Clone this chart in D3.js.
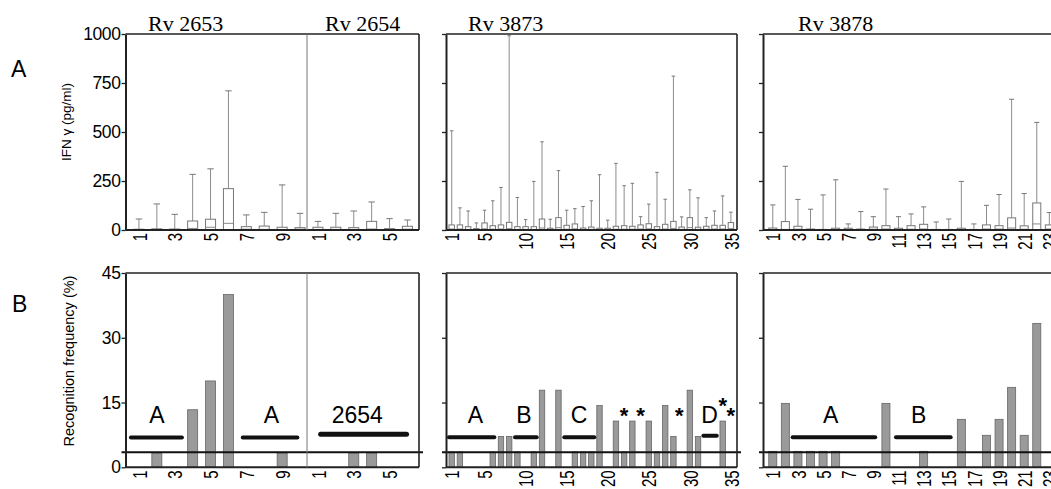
<!DOCTYPE html>
<html>
<head>
<meta charset="utf-8">
<script src="https://cdn.jsdelivr.net/npm/d3@7"></script>
<style>
  body { margin: 0; background: #fff; }
  svg text { font-family: "Liberation Sans", Arial, sans-serif; fill: #000; }
</style>
</head>
<body>
<div id="chart"></div>
<script>
// ---- panel A: IFN gamma box plots (max = whisker top, q3 = box top, med = median)
var rv2653Max = [56, 133, 80, 284, 312, 710, 77, 90, 230, 85];
var rv2653Q3  = [4, 6, 5, 46, 55, 211, 17, 20, 14, 12];
var rv2653Med = [1, 2, 1, 8, 14, 34, 4, 3, 2, 4];
var rv2654Max = [44, 85, 97, 143, 58, 51];
var rv2654Q3  = [14, 14, 12, 44, 7, 19];
var rv2654Med = [3, 3, 3, 5, 2, 4];
var rv3873Max = [506, 113, 97, 36, 101, 149, 217, 991, 166, 53, 248, 450, 55, 303, 101, 109, 120, 149,
                 282, 50, 340, 226, 238, 68, 132, 294, 157, 785, 67, 205, 164, 63, 97, 174, 91];
var rv3873Q3  = [26, 26, 17, 7, 36, 22, 26, 39, 17, 17, 17, 56, 9, 63, 24, 31, 10, 15,
                 9, 9, 19, 22, 19, 26, 32, 17, 29, 44, 15, 63, 14, 19, 24, 24, 38];
var rv3873Med = [5, 5, 3, 1, 6, 4, 5, 7, 3, 3, 3, 10, 2, 12, 4, 6, 2, 3,
                 2, 2, 4, 4, 4, 5, 6, 3, 5, 8, 3, 12, 3, 4, 5, 5, 7];
var rv3878Max = [128, 325, 156, 106, 179, 256, 31, 94, 68, 209, 68, 82, 118, 41, 56, 248, 31, 126,
                 181, 667, 186, 549, 89];
var rv3878Q3  = [10, 43, 19, 5, 3, 9, 9, 5, 15, 22, 9, 22, 29, 3, 3, 9, 3, 26, 22, 62, 21, 138, 26];
var rv3878Med = [3, 3, 4, 1, 1, 2, 3, 1, 4, 5, 3, 4, 5, 1, 1, 2, 1, 5, 5, 10, 4, 31, 5];

// ---- panel B: recognition frequency (%)
var rv2653Freq = [0, 3.33, 0, 13.33, 20, 40, 0, 0, 3.33, 0];
var rv2654Freq = [0, 0, 3.33, 3.33, 0, 0];
var rv3873Freq = [3.57, 3.57, 0, 0, 0, 3.57, 7.14, 7.14, 3.57, 0, 3.57, 17.86, 0, 17.86, 0, 3.57, 3.57, 3.57,
                  14.29, 0, 10.71, 3.57, 10.71, 0, 10.71, 3.57, 14.29, 7.14, 0, 17.86, 7.14, 0, 0, 10.71, 0];
var rv3878Freq = [3.7, 14.81, 3.7, 3.7, 3.7, 3.7, 0, 0, 0, 14.81, 0, 0, 3.7, 0, 0, 11.11, 0, 7.41,
                  11.11, 18.52, 7.41, 33.33, 0];
var cutoff = 3.5;

// region bars [from, to, level] in peptide units, and their letters [pos, level, text]
var leftSegs   = [[0.55, 3.4, 6.9], [6.8, 9.85, 6.9]];
var leftLabels = [[2, 10.3, "A"], [8.4, 10.3, "A"]];
var seg2654    = [1.15, 5.95, 7.65];
var label2654  = [3.2, 10.3, "2654"];
var midSegs    = [[0.67, 6.19, 6.95], [8.71, 11.35, 6.95], [14.71, 18.37, 6.95], [31.65, 33.28, 7.3]];
var midLabels  = [[3.9, 10.3, "A"], [9.8, 10.3, "B"], [16.5, 10.3, "C"], [32.4, 10.3, "D"]];
var midStars   = [[22, 10.2], [24, 10.2], [28.7, 10.2], [34, 12.5], [35, 10.2]];
var rightSegs  = [[2.58, 9.15, 6.95], [10.8, 15.15, 6.95]];
var rightLabels = [[5.6, 10.3, "A"], [12.6, 10.3, "B"]];

var ticksA = [0, 250, 500, 750, 1000];
var ticksB = [0, 15, 30, 45];
var ticksMid = [1, 5, 10, 15, 20, 25, 30, 35];
var ticksRight = [1, 3, 5, 7, 9, 11, 13, 15, 17, 19, 21, 23];
var ticksLeft = [1, 3, 5, 7, 9, 11, 13, 15]; // 11.. are Rv2654 1,3,5

var svg = d3.select("#chart").append("svg")
    .attr("width", 1051)
    .attr("height", 489);

var yA = d3.scaleLinear().domain([0, 1000]).range([230, 34]);
var yB = d3.scaleLinear().domain([0, 45]).range([467.3, 273]);

var panels = [
  { left: 125.5, right: 419, x: d3.scaleLinear().domain([0.5, 16.5]).range([130, 416.4]), frac: 0.56,
    yLabels: true, ticks: ticksLeft, fmt: function(d) { return d > 10 ? d - 10 : d; },
    max: rv2653Max.concat(rv2654Max), q3: rv2653Q3.concat(rv2654Q3), med: rv2653Med.concat(rv2654Med),
    freq: rv2653Freq.concat(rv2654Freq) },
  { left: 446, right: 737, x: d3.scaleLinear().domain([0.5, 35.5]).range([447.6, 735]), frac: 0.66,
    ticks: ticksMid, fmt: function(d) { return d; },
    max: rv3873Max, q3: rv3873Q3, med: rv3873Med, freq: rv3873Freq },
  { left: 763, right: 1100, x: d3.scaleLinear().domain([0.5, 24.5]).range([766.5, 1068.2]), frac: 0.64,
    ticks: ticksRight, fmt: function(d) { return d; },
    max: rv3878Max, q3: rv3878Q3, med: rv3878Med, freq: rv3878Freq }
];

function frame(p, y, ticks) {
  var g = svg.append("g");
  var top = y.range()[1], bottom = y.range()[0];
  g.append("line").attr("x1", p.left).attr("x2", p.right).attr("y1", top).attr("y2", top)
    .attr("stroke", "#222").attr("stroke-width", 1.6);
  g.append("line").attr("x1", p.right).attr("x2", p.right).attr("y1", top).attr("y2", bottom)
    .attr("stroke", "#222").attr("stroke-width", 1.6);
  g.append("line").attr("x1", p.left).attr("x2", p.right).attr("y1", bottom).attr("y2", bottom)
    .attr("stroke", "#222").attr("stroke-width", 2);

  var ax = g.append("g").attr("transform", "translate(" + p.left + ",0)")
    .call(d3.axisLeft(y).tickValues(ticks).tickSize(4).tickSizeOuter(0).tickPadding(1)
      .tickFormat(d3.format("d")));
  ax.select(".domain").attr("stroke", "#222").attr("stroke-width", 2);
  ax.selectAll(".tick line").attr("stroke", "#222").attr("stroke-width", 1.3);
  if (p.yLabels) {
    ax.selectAll(".tick text").style("font-size", "17.5px").attr("fill", "#000")
      .attr("letter-spacing", "-0.4px");
  } else {
    ax.selectAll(".tick text").remove();
  }

  // rotated peptide numbers
  var bx = g.append("g").attr("transform", "translate(0," + bottom + ")")
    .call(d3.axisBottom(p.x).tickValues(p.ticks).tickSize(0).tickFormat(p.fmt));
  bx.select(".domain").remove();
  bx.selectAll(".tick text")
    .attr("y", null)
    .attr("dy", "0.36em")
    .attr("text-anchor", "end")
    .attr("transform", "translate(0,3) rotate(-90) scale(1,1.33)")
    .style("font-size", "15px")
    .attr("fill", "#000");
}

panels.forEach(function(p) {
  var bw = (p.x(2) - p.x(1)) * p.frac;
  var cap = bw * 0.32;
  var idx = d3.range(1, p.max.length + 1);

  // ---- panel A
  var gA = svg.append("g");
  gA.selectAll(".whisker").data(idx).enter().append("line")
    .attr("x1", function(d) { return p.x(d); })
    .attr("x2", function(d) { return p.x(d); })
    .attr("y1", function(d) { return yA(p.q3[d - 1]); })
    .attr("y2", function(d) { return yA(p.max[d - 1]); })
    .attr("stroke", "#8c8c8c").attr("stroke-width", 1);
  gA.selectAll(".cap").data(idx).enter().append("line")
    .attr("x1", function(d) { return p.x(d) - cap; })
    .attr("x2", function(d) { return p.x(d) + cap; })
    .attr("y1", function(d) { return yA(p.max[d - 1]); })
    .attr("y2", function(d) { return yA(p.max[d - 1]); })
    .attr("stroke", "#777").attr("stroke-width", 1);
  gA.selectAll(".box").data(idx).enter().append("rect")
    .attr("x", function(d) { return p.x(d) - bw / 2; })
    .attr("width", bw)
    .attr("y", function(d) { return yA(p.q3[d - 1]); })
    .attr("height", function(d) { return yA(0) - yA(p.q3[d - 1]); })
    .attr("fill", "#fff").attr("stroke", "#777").attr("stroke-width", 1);
  gA.selectAll(".med").data(idx).enter().append("line")
    .attr("x1", function(d) { return p.x(d) - bw / 2; })
    .attr("x2", function(d) { return p.x(d) + bw / 2; })
    .attr("y1", function(d) { return yA(p.med[d - 1]); })
    .attr("y2", function(d) { return yA(p.med[d - 1]); })
    .attr("stroke", "#888").attr("stroke-width", 1);

  // ---- panel B
  var gB = svg.append("g");
  gB.selectAll(".bar").data(idx.filter(function(d) { return p.freq[d - 1] > 0; })).enter().append("rect")
    .attr("x", function(d) { return p.x(d) - bw / 2; })
    .attr("width", bw)
    .attr("y", function(d) { return yB(p.freq[d - 1]); })
    .attr("height", function(d) { return yB(0) - yB(p.freq[d - 1]); })
    .attr("fill", "#9a9a9a").attr("stroke", "#666").attr("stroke-width", 0.8);

  frame(p, yA, ticksA);
  frame(p, yB, ticksB);

  gB.append("line")
    .attr("x1", p.left - 4).attr("x2", p.right + 4)
    .attr("y1", yB(cutoff)).attr("y2", yB(cutoff))
    .attr("stroke", "#111").attr("stroke-width", 2);
});

// divider between Rv2653 and Rv2654
var pl = panels[0];
[yA, yB].forEach(function(y) {
  svg.append("line")
    .attr("x1", pl.x(10.5) - 2).attr("x2", pl.x(10.5) - 2)
    .attr("y1", y.range()[1]).attr("y2", y.range()[0])
    .attr("stroke", "#777").attr("stroke-width", 1);
});

function segs(p, list, w) {
  svg.append("g").selectAll("line").data(list).enter().append("line")
    .attr("x1", function(d) { return p.x(d[0]); })
    .attr("x2", function(d) { return p.x(d[1]); })
    .attr("y1", function(d) { return yB(d[2]); })
    .attr("y2", function(d) { return yB(d[2]); })
    .attr("stroke", "#111").attr("stroke-width", w).attr("stroke-linecap", "round");
}
function labels(p, list, size, weight) {
  svg.append("g").selectAll("text").data(list).enter().append("text")
    .attr("x", function(d) { return p.x(d[0]); })
    .attr("y", function(d) { return yB(d[1]); })
    .attr("text-anchor", "middle")
    .style("font-size", size + "px")
    .style("font-weight", weight || "normal")
    .text(function(d) { return d[2]; });
}

segs(pl, leftSegs, 4);
labels(pl, leftLabels, 23);
segs(pl, [[seg2654[0] + 10, seg2654[1] + 10, seg2654[2]]], 5);
labels(pl, [[label2654[0] + 10, label2654[1], label2654[2]]], 23);
segs(panels[1], midSegs, 4);
labels(panels[1], midLabels, 23);
labels(panels[1], midStars.map(function(d) { return [d[0], d[1], "*"]; }), 22, "bold");
segs(panels[2], rightSegs, 4);
labels(panels[2], rightLabels, 23);

// titles
var titles = [["Rv 2653", 148], ["Rv 2654", 325], ["Rv 3873", 468], ["Rv 3878", 798]];
svg.selectAll(".title").data(titles).enter().append("text")
  .attr("x", function(d) { return d[1]; })
  .attr("y", 31)
  .style("font-family", "'Liberation Serif', 'Times New Roman', serif")
  .style("font-size", "22px")
  .text(function(d) { return d[0]; });

// panel letters
svg.append("text").attr("x", 11).attr("y", 77).style("font-size", "23px").text("A");
svg.append("text").attr("x", 12).attr("y", 312).style("font-size", "23px").text("B");

// axis titles
svg.append("text")
  .attr("transform", "translate(71,122) rotate(-90)")
  .attr("text-anchor", "middle")
  .style("font-size", "13.5px")
  .text("IFN \u03b3 (pg/ml)");
svg.append("text")
  .attr("transform", "translate(74,361) rotate(-90)")
  .attr("text-anchor", "middle")
  .style("font-size", "14.5px")
  .text("Recognition frequency (%)");
</script>
</body>
</html>
